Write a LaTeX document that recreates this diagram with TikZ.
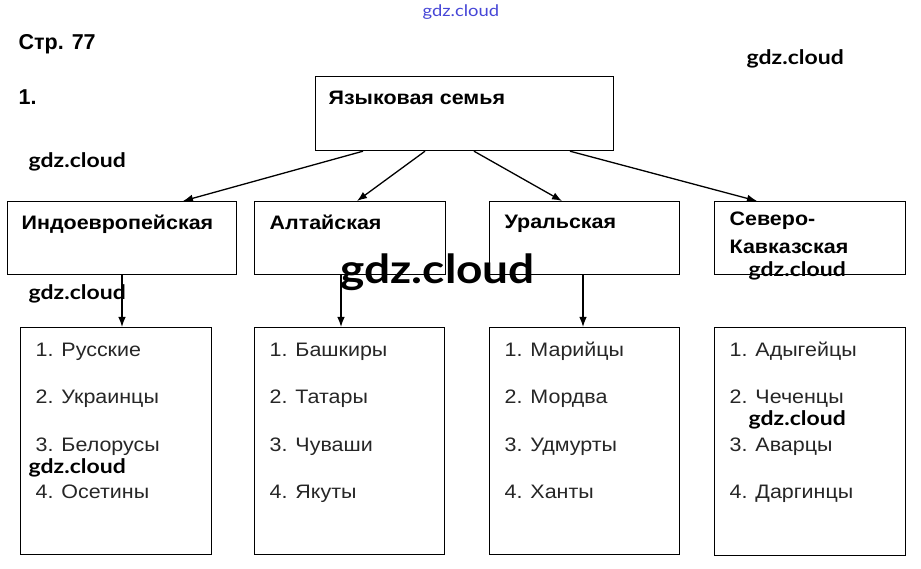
\documentclass[tikz,border=0pt]{standalone}
\usepackage{fontspec}
\setmainfont{Liberation Sans}[FakeStretch=1.1]
\newfontfamily\pagefont{Liberation Sans}
\newfontfamily\wmfont{Lato}[FakeStretch=1.15]
\usetikzlibrary{arrows.meta}
\definecolor{wmblue}{RGB}{70,70,215}

\begin{document}
\begin{tikzpicture}[x=1pt,y=-1pt,>={Latex[length=10pt,width=7.5pt]},line width=1.3pt,
  famBox/.style={draw,line width=1.2pt,anchor=north west,inner sep=0pt},
  head/.style={anchor=base west,inner sep=0pt,font=\bfseries\fontsize{19.5}{22}\selectfont},
  item/.style={anchor=base west,inner sep=0pt,text=black!85,font=\fontsize{19.5}{22}\selectfont},
  wm/.style={anchor=base west,inner sep=0pt,font=\wmfont\bfseries\fontsize{20}{23}\selectfont}]
\fill[white] (0,0) rectangle (921,569);
% page heading
\node[anchor=base west,inner sep=0pt,font=\pagefont\bfseries\fontsize{21.5}{25}\selectfont] (page) at (18,50) {Стр. 77};
\node[anchor=base west,inner sep=0pt,font=\pagefont\bfseries\fontsize{21.5}{25}\selectfont] (task) at (18,105) {1.};
% boxes
\node[famBox,minimum width=298pt,minimum height=74pt] (family) at (315,76) {};
\node[famBox,minimum width=229pt,minimum height=73pt] (indo) at (7,201) {};
\node[famBox,minimum width=191pt,minimum height=73pt] (altai) at (254,201) {};
\node[famBox,minimum width=190pt,minimum height=73pt] (ural) at (489,201) {};
\node[famBox,minimum width=191pt,minimum height=73pt] (kavk) at (714,201) {};
\node[famBox,minimum width=191pt,minimum height=227pt] (indoList) at (20,327) {};
\node[famBox,minimum width=190pt,minimum height=227pt] (altaiList) at (254,327) {};
\node[famBox,minimum width=190pt,minimum height=227pt] (uralList) at (489,327) {};
\node[famBox,minimum width=191pt,minimum height=228pt] (kavkList) at (714,327) {};
% headings
\node[head] (familyT) at (328,105) {Языковая семья};
\node[head] (indoT) at (21,230) {Индоевропейская};
\node[head] (altaiT) at (269,230) {Алтайская};
\node[head] (uralT) at (504,229) {Уральская};
\node[head] (kavkT) at (729,226) {Северо-};
\node[head] (kavkTT) at (729,254) {Кавказская};
% lists
\node[item] (i1) at (35,356) {1. Русские};
\node[item] (i2) at (35,403) {2. Украинцы};
\node[item] (i3) at (35,451) {3. Белорусы};
\node[item] (i4) at (35,498) {4. Осетины};
\node[item] (a1) at (269,356) {1. Башкиры};
\node[item] (a2) at (269,403) {2. Татары};
\node[item] (a3) at (269,451) {3. Чуваши};
\node[item] (a4) at (269,498) {4. Якуты};
\node[item] (u1) at (504,356) {1. Марийцы};
\node[item] (u2) at (504,403) {2. Мордва};
\node[item] (u3) at (504,451) {3. Удмурты};
\node[item] (u4) at (504,498) {4. Ханты};
\node[item] (k1) at (729,356) {1. Адыгейцы};
\node[item] (k2) at (729,403) {2. Чеченцы};
\node[item] (k3) at (729,451) {3. Аварцы};
\node[item] (k4) at (729,498) {4. Даргинцы};
% arrows
\draw[->] ([xshift=48pt]family.south west) -- ([xshift=176pt]indo.north west);
\draw[->] ([xshift=110pt]family.south west) -- ([xshift=103pt]altai.north west);
\draw[->] ([xshift=159pt]family.south west) -- ([xshift=73pt]ural.north west);
\draw[->] ([xshift=255pt]family.south west) -- ([xshift=43pt]kavk.north west);
\draw[->] ([xshift=115pt]indo.south west) -- ([xshift=102pt]indoList.north west);
\draw[->] ([xshift=87pt]altai.south west) -- ([xshift=87pt]altaiList.north west);
\draw[->] ([xshift=94pt]ural.south west) -- ([xshift=94pt]uralList.north west);
% watermarks
\node[anchor=base west,inner sep=0pt,text=wmblue,font=\wmfont\fontsize{16}{18}\selectfont] (wm0) at (422,17) {gdz.cloud};
\node[wm] (wm1) at (746,65) {gdz.cloud};
\node[wm] (wm2) at (28,168) {gdz.cloud};
\node[wm] (wm3) at (28,300) {gdz.cloud};
\node[wm,font=\wmfont\bfseries\fontsize{40}{46}\selectfont] (wm4) at (340,284) {gdz.cloud};
\node[wm] (wm5) at (748,277) {gdz.cloud};
\node[wm] (wm6) at (748,425) {gdz.cloud};
\node[wm] (wm7) at (28,473) {gdz.cloud};
\end{tikzpicture}
\end{document}
